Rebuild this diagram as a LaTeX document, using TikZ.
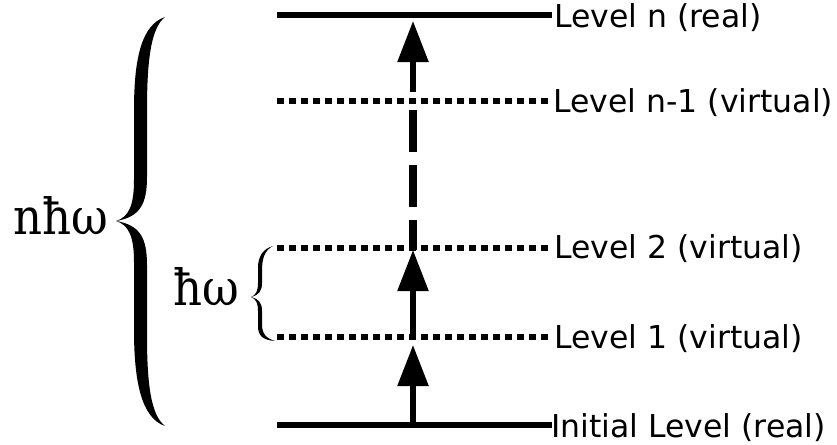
\documentclass[tikz,border=0pt]{standalone}
\usepackage{fontspec}
\setmainfont{DejaVu Serif}
\newfontfamily\lblfont{DejaVu Sans}
\newfontfamily\symfont{DejaVu Serif Condensed}
\usetikzlibrary{arrows.meta}
\begin{document}
\begin{tikzpicture}[x=1pt,y=-1pt,
 real/.style={line width=6.5pt},
 virt/.style={line width=6.5pt, dash pattern=on 7pt off 5pt},
 up/.style={line width=5.5pt, -{Triangle[length=41pt,width=30pt]}},
 dashup/.style={line width=7.5pt, dash pattern=on 42pt off 13pt},
 lbl/.style={anchor=base west, inner sep=0pt, font=\lblfont\fontsize{31.5}{36}\selectfont},
 sym/.style={anchor=base west, inner sep=0pt, font=\symfont\fontsize{50}{54}\selectfont},
 bracefill/.style={fill=black, draw=none}]
\useasboundingbox[fill=white] (0,0) rectangle (837,444);
% level end points
\coordinate (nL) at (277,15);  \coordinate (nR) at (552,15);
\coordinate (mL) at (277,101); \coordinate (mR) at (552,101);
\coordinate (bL) at (277,248); \coordinate (bR) at (552,248);
\coordinate (aL) at (277,337); \coordinate (aR) at (552,337);
\coordinate (iL) at (277,425); \coordinate (iR) at (552,425);
\draw[real] (nL) -- (nR);
\draw[virt] (mL) -- (mR);
\draw[virt] (bL) -- (bR);
\draw[virt] (aL) -- (aR);
\draw[real] (iL) -- (iR);
% labels
\node[lbl] (tn) at (554,28) {Level n (real)};
\node[lbl] (tm) at (553,112) {Level n-1 (virtual)};
\node[lbl] (tb) at (554,258) {Level 2 (virtual)};
\node[lbl] (ta) at (554,348) {Level 1 (virtual)};
\node[lbl] (ti) at (551,437) {Initial Level (real)};
% arrows
\coordinate (s0) at (413,422); \coordinate (e0) at (413,345);
\coordinate (s1) at (413,334); \coordinate (e1) at (413,250);
\coordinate (s2) at (413,250); \coordinate (e2) at (413,110);
\coordinate (s3) at (413,92);  \coordinate (e3) at (413,21);
\draw[up] (s0) -- (e0);
\draw[up] (s1) -- (e1);
\draw[dashup] (e2) -- (s2);
\draw[up] (s3) -- (e3);
% big brace
\path[bracefill] (165,17) .. controls (141,25) and (134,60) .. (134,110)
  -- (134,180) .. controls (134,205) and (129,217) .. (116,221)
  .. controls (129,225) and (134,237) .. (134,262)
  -- (134,330) .. controls (134,380) and (141,418) .. (165,426)
  .. controls (151,415) and (147,385) .. (147,335)
  -- (147,265) .. controls (147,238) and (140,225) .. (116,221)
  .. controls (140,217) and (147,204) .. (147,177)
  -- (147,110) .. controls (147,60) and (151,28) .. (165,17) -- cycle;
% small brace
\path[bracefill] (273,246) .. controls (263,249) and (258,256) .. (258,268)
  -- (258,283) .. controls (258,291) and (256,295) .. (251,297)
  .. controls (256,299) and (258,303) .. (258,311)
  -- (258,326) .. controls (258,336) and (263,340) .. (275,341)
  .. controls (266,338) and (262,334) .. (262,324)
  -- (262,311) .. controls (262,303) and (259,299) .. (251,297)
  .. controls (259,295) and (262,291) .. (262,283)
  -- (262,270) .. controls (262,258) and (265,250) .. (273,246) -- cycle;
% symbols
\node[sym] (nh) at (13,234) {nħω};
\node[sym] (h) at (173,305) {ħω};
\end{tikzpicture}
\end{document}
